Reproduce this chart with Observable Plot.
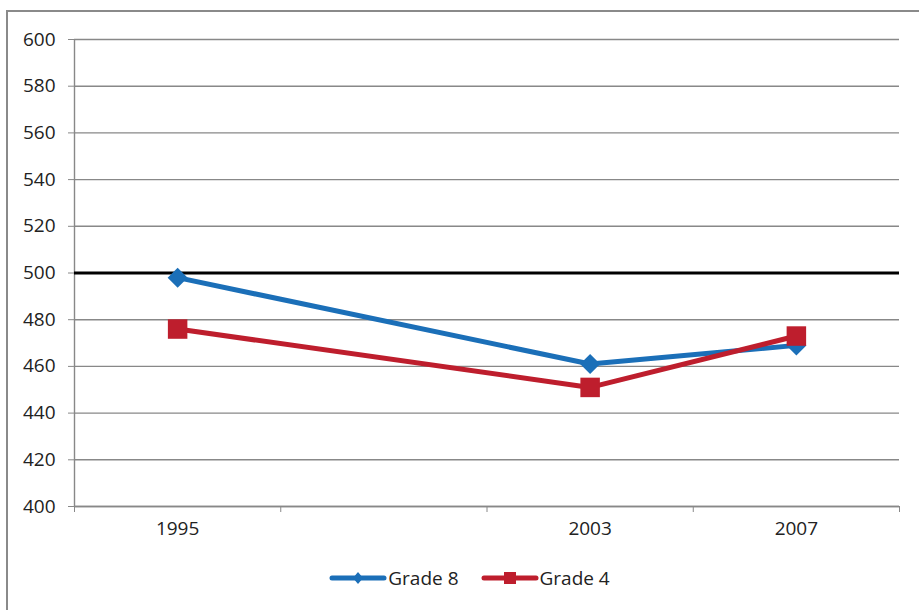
<!DOCTYPE html>
<html>
<head>
<meta charset="utf-8">
<script src="https://cdn.jsdelivr.net/npm/d3@7"></script>
<script src="https://cdn.jsdelivr.net/npm/@observablehq/plot@0.6"></script>
<style>
  html, body { margin: 0; padding: 0; background: #fff; overflow: hidden; width: 919px; height: 610px; }
  #frame { position: absolute; left: 6px; top: 10px; width: 940px; height: 640px; border: 2px solid #8a8a8a; box-sizing: border-box; }
  #chart { position: absolute; left: 0; top: 0; }
  #legend { position: absolute; left: 10px; top: 565px; width: 919px; display: flex; justify-content: center; gap: 22px;
            font-family: "Open Sans", "Noto Sans", sans-serif; font-size: 19px; line-height: 26px; color: #222; }
  .item { display: flex; align-items: center; gap: 1px; }
  .item svg { display: block; }
</style>
</head>
<body>
<div id="frame"></div>
<div id="chart"></div>
<div id="legend"></div>
<script>
const years = [1995, 2003, 2007];
const grade8 = [498, 461, 469];
const grade4 = [476, 451, 473];
const seriesNames = ["Grade 8", "Grade 4"];
const seriesColors = ["#1b6fb8", "#be1e2d"];
const xDomain = [1993, 2009];
const xBoundaries = [1993, 1997, 2001, 2005, 2009];
const yTicks = [400, 420, 440, 460, 480, 500, 520, 540, 560, 580, 600];
const benchmark = 500;

const rows8 = years.map((y, i) => ({year: y, score: grade8[i]}));
const rows4 = years.map((y, i) => ({year: y, score: grade4[i]}));

const plot = Plot.plot({
  width: 919,
  height: 560,
  marginLeft: 74,
  marginRight: 20,
  marginTop: 39,
  marginBottom: 54,
  style: {fontFamily: "'Open Sans', 'Noto Sans', sans-serif", fontSize: "19px", color: "#222", background: "transparent"},
  x: {domain: xDomain, type: "linear"},
  y: {domain: [400, 600]},
  marks: [
    Plot.gridY(yTicks, {stroke: "#888", strokeOpacity: 1, strokeWidth: 1.4}),
    Plot.ruleX([xDomain[0]], {stroke: "#888", strokeWidth: 1.4}),
    Plot.axisY({ticks: yTicks, tickSize: 6, tickPadding: 13, stroke: "#888", label: null, fontSize: 19}),
    Plot.axisX({ticks: xBoundaries, tickSize: 6, tickFormat: () => "", stroke: "#888", label: null}),
    Plot.axisX({ticks: years, tickSize: 0, tickPadding: 15, tickFormat: d => String(d), label: null, fontSize: 19}),
    Plot.ruleY([400], {stroke: "#888", strokeWidth: 1.4}),
    Plot.ruleY([benchmark], {stroke: "#000", strokeWidth: 3}),
    Plot.line(rows8, {x: "year", y: "score", stroke: seriesColors[0], strokeWidth: 5}),
    Plot.dot(rows8, {x: "year", y: "score", fill: seriesColors[0], symbol: "diamond2", r: 9}),
    Plot.line(rows4, {x: "year", y: "score", stroke: seriesColors[1], strokeWidth: 5}),
    Plot.dot(rows4, {x: "year", y: "score", fill: seriesColors[1], symbol: "square", r: 11})
  ]
});
document.getElementById("chart").appendChild(plot);

const legend = document.getElementById("legend");
seriesNames.forEach((name, i) => {
  const item = document.createElement("div");
  item.className = "item";
  const marker = i === 0
    ? `<polygon points="29,4 34,10 29,16 24,10" fill="${seriesColors[i]}"/>`
    : `<rect x="23" y="4" width="12" height="12" fill="${seriesColors[i]}"/>`;
  item.innerHTML = `<svg width="58" height="20"><line x1="3" y1="10" x2="55" y2="10" stroke="${seriesColors[i]}" stroke-width="5" stroke-linecap="round"/>${marker}</svg><span>${name}</span>`;
  legend.appendChild(item);
});
</script>
</body>
</html>
